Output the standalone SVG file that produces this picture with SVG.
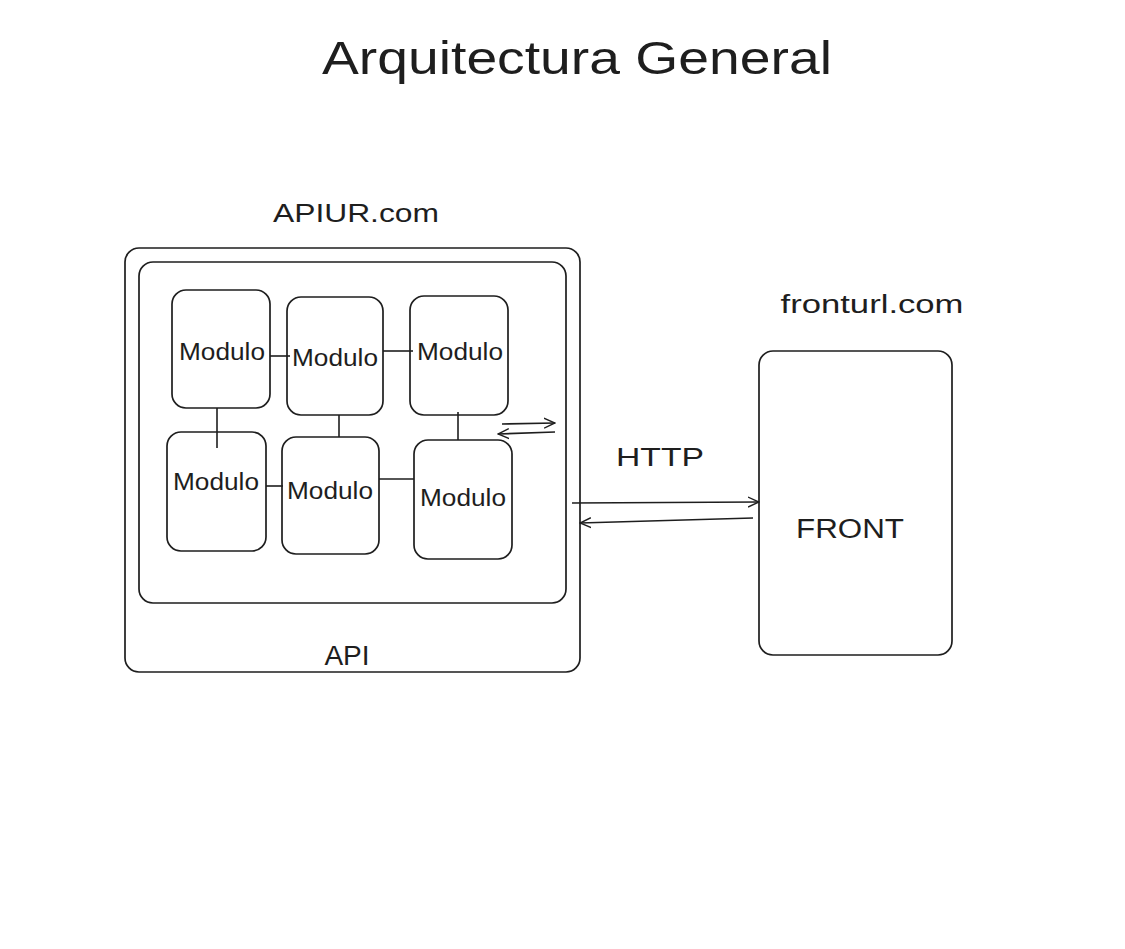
<svg xmlns="http://www.w3.org/2000/svg" width="1125" height="949" viewBox="0 0 1125 949">
<defs>
<style>
.box{fill:none;stroke:#1e1e1e;stroke-width:1.7}
.ln{fill:none;stroke:#1e1e1e;stroke-width:1.6}
.t{font-family:"Comic Sans MS","Liberation Sans",sans-serif;fill:#1e1e1e;text-anchor:middle}
.m{font-size:23px}
</style>
<marker id="ah" viewBox="0 0 12 12" refX="11" refY="6" markerWidth="12" markerHeight="12" orient="auto" markerUnits="userSpaceOnUse">
<path d="M0,1 L11,6 L0,11" fill="none" stroke="#1e1e1e" stroke-width="1.4"/>
</marker>
</defs>
<rect width="1125" height="949" fill="#ffffff"/>
<text class="t" x="577" y="74" font-size="46" textLength="510" lengthAdjust="spacingAndGlyphs">Arquitectura General</text>
<g id="api">
<rect class="box" x="125" y="248" width="455" height="424" rx="14"/>
<text class="t" x="347" y="665" font-size="28">API</text>
</g>
<text class="t" x="356" y="222" font-size="26" textLength="166" lengthAdjust="spacingAndGlyphs">APIUR.com</text>
<g id="inner">
<rect class="box" x="139" y="262" width="427" height="341" rx="14"/>
</g>
<g id="m1"><rect class="box" x="172" y="290" width="98" height="118" rx="14"/><text class="t m" x="222" y="360" textLength="86" lengthAdjust="spacingAndGlyphs">Modulo</text></g>
<g id="m2"><rect class="box" x="287" y="297" width="96" height="118" rx="14"/><text class="t m" x="335" y="366" textLength="86" lengthAdjust="spacingAndGlyphs">Modulo</text></g>
<g id="m3"><rect class="box" x="410" y="296" width="98" height="119" rx="14"/><text class="t m" x="460" y="360" textLength="86" lengthAdjust="spacingAndGlyphs">Modulo</text></g>
<g id="m4"><rect class="box" x="167" y="432" width="99" height="119" rx="14"/><text class="t m" x="216" y="490" textLength="86" lengthAdjust="spacingAndGlyphs">Modulo</text></g>
<g id="m5"><rect class="box" x="282" y="437" width="97" height="117" rx="14"/><text class="t m" x="330" y="499" textLength="86" lengthAdjust="spacingAndGlyphs">Modulo</text></g>
<g id="m6"><rect class="box" x="414" y="440" width="98" height="119" rx="14"/><text class="t m" x="463" y="506" textLength="86" lengthAdjust="spacingAndGlyphs">Modulo</text></g>
<g id="front">
<rect class="box" x="759" y="351" width="193" height="304" rx="14"/>
<text class="t" x="850" y="538" font-size="27" textLength="108" lengthAdjust="spacingAndGlyphs">FRONT</text>
</g>
<text class="t" x="872" y="313" font-size="26" textLength="183" lengthAdjust="spacingAndGlyphs">fronturl.com</text>
<text class="t" x="660" y="466" font-size="26" textLength="88" lengthAdjust="spacingAndGlyphs">HTTP</text>
<g id="connectors">
<line class="ln" x1="270" y1="356" x2="290" y2="356"/>
<line class="ln" x1="383" y1="351" x2="413" y2="351"/>
<line class="ln" x1="217" y1="408" x2="217" y2="448"/>
<line class="ln" x1="339" y1="415" x2="339" y2="437"/>
<line class="ln" x1="458" y1="412" x2="458" y2="440"/>
<line class="ln" x1="266" y1="486" x2="283" y2="486"/>
<line class="ln" x1="379" y1="479" x2="414" y2="479"/>
<line class="ln" x1="502" y1="424" x2="555" y2="423" marker-end="url(#ah)"/>
<line class="ln" x1="555" y1="432" x2="498" y2="434" marker-end="url(#ah)"/>
<line class="ln" x1="572" y1="503" x2="759" y2="502" marker-end="url(#ah)"/>
<line class="ln" x1="753" y1="518" x2="580" y2="523" marker-end="url(#ah)"/>
</g>
</svg>
